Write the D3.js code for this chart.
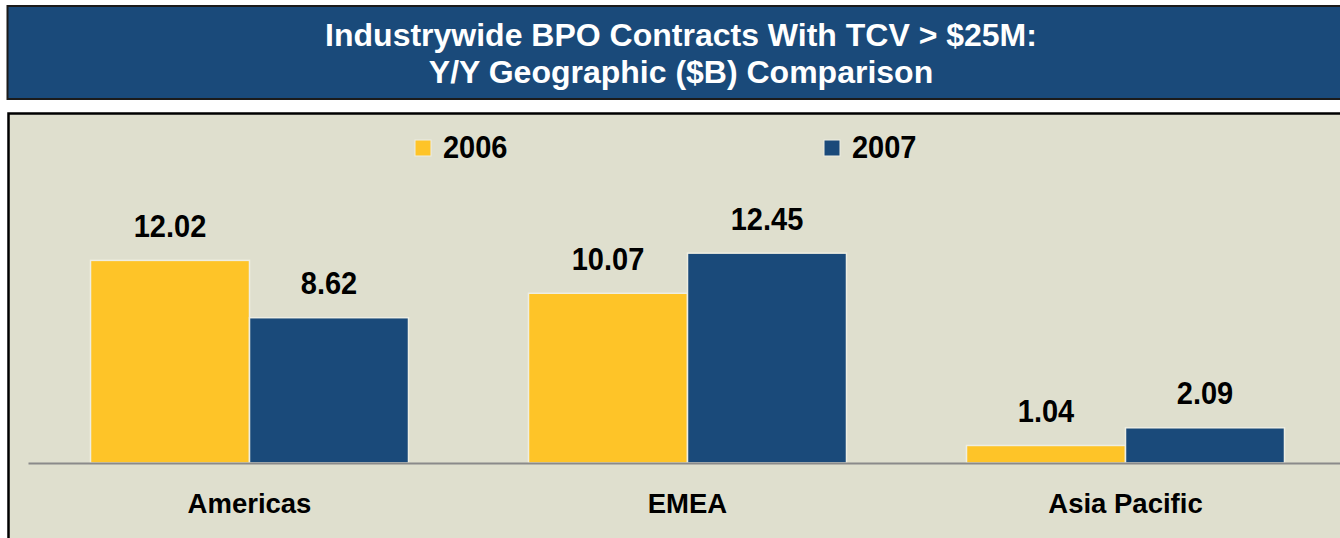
<!DOCTYPE html>
<html>
<head>
<meta charset="utf-8">
<script src="https://cdn.jsdelivr.net/npm/d3@7"></script>
<style>
  html, body { margin: 0; padding: 0; background: #ffffff; }
  svg { display: block; }
  text { font-family: "Liberation Sans", Arial, sans-serif; font-weight: bold; }
</style>
</head>
<body>
<svg id="chart" width="1340" height="538"></svg>
<script>
const categories = ["Americas", "EMEA", "Asia Pacific"];
const seriesNames = ["2006", "2007"];
const values2006 = [12.02, 10.07, 1.04];
const values2007 = [8.62, 12.45, 2.09];
const titleLines = ["Industrywide BPO Contracts With TCV > $25M:", "Y/Y Geographic ($B) Comparison"];

const colors = { "2006": "#FEC428", "2007": "#1A4A7A" };
const svg = d3.select("#chart");

// Title box
svg.append("rect").attr("x", 7.5).attr("y", 6).attr("width", 1350).attr("height", 93)
  .attr("fill", "#1A4A7A").attr("stroke", "#1b1b1b").attr("stroke-width", 2);
svg.selectAll("text.title").data(titleLines).join("text")
  .attr("class", "title")
  .attr("x", 681).attr("y", (d, i) => 46 + i * 37)
  .attr("text-anchor", "middle").attr("fill", "#ffffff")
  .attr("font-size", 32).text(d => d);

// Panel
svg.append("rect").attr("x", 8.5).attr("y", 113.5).attr("width", 1350).attr("height", 440)
  .attr("fill", "#DFDFCE").attr("stroke", "#000000").attr("stroke-width", 2.5);

const x0 = d3.scaleBand().domain(categories).range([30.5, 1344.5])
  .paddingInner(0.274).paddingOuter(0.137);
const x1 = d3.scaleBand().domain(seriesNames).range([0, x0.bandwidth()]);
const y = d3.scaleLinear().domain([0, 14]).range([463, 227]);

const rows = categories.map((c, i) => ({ cat: c, vals: [
  { s: "2006", v: values2006[i] }, { s: "2007", v: values2007[i] } ] }));

const groups = svg.selectAll("g.grp").data(rows).join("g")
  .attr("class", "grp").attr("transform", d => `translate(${x0(d.cat)},0)`);

groups.selectAll("rect").data(d => d.vals).join("rect")
  .attr("x", d => x1(d.s)).attr("width", x1.bandwidth())
  .attr("y", d => y(d.v)).attr("height", d => y(0) - y(d.v))
  .attr("fill", d => colors[d.s]).attr("stroke", "#EEEEE2").attr("stroke-width", 1.5);

groups.selectAll("text.val").data(d => d.vals).join("text")
  .attr("class", "val")
  .attr("transform", d => `translate(${x1(d.s) + x1.bandwidth() / 2},${y(d.v) - 23.5}) scale(1,1.08)`)
  .attr("text-anchor", "middle").attr("font-size", 29).attr("fill", "#000")
  .text(d => d.v.toFixed(2));

// Axis baseline
const xAxis = d3.axisBottom(x0).tickSize(0).tickPadding(0);
const axisG = svg.append("g").attr("transform", `translate(0,${y(0)})`).call(xAxis);
axisG.select(".domain").attr("stroke", "#8a8a8a").attr("stroke-width", 2.2)
  .attr("d", `M${28.5},0.5H1344.5`);
axisG.selectAll(".tick text")
  .attr("y", 49.5).attr("dy", 0)
  .attr("font-size", 27.5).attr("fill", "#000")
  .attr("font-family", "Liberation Sans, Arial, sans-serif").attr("font-weight", "bold");

// Legend
const legendX = [415, 824];
const leg = svg.selectAll("g.leg").data(seriesNames).join("g")
  .attr("class", "leg").attr("transform", (d, i) => `translate(${legendX[i]},140)`);
leg.append("rect").attr("width", 16).attr("height", 16)
  .attr("fill", d => colors[d]).attr("stroke", "#EEEEE2").attr("stroke-width", 1);
leg.append("text").attr("transform", "translate(28,18.3) scale(1,1.08)")
  .attr("font-size", 29).attr("fill", "#000").text(d => d);
</script>
</body>
</html>
